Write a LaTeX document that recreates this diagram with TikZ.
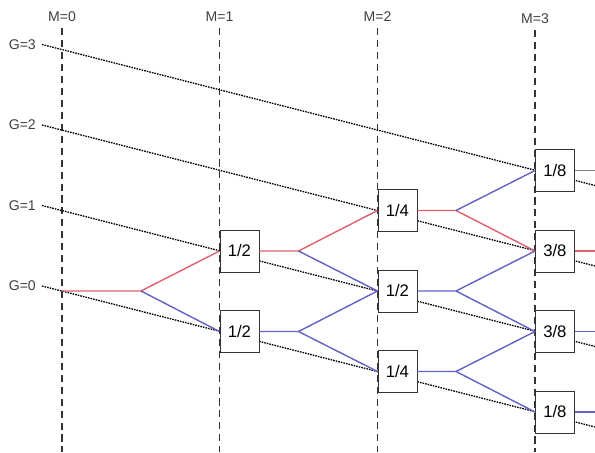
\documentclass[tikz,border=0pt]{standalone}
\usepackage{fontspec}
\setmainfont{Liberation Sans}
\definecolor{pathred}{RGB}{222,96,110}
\definecolor{pathblue}{RGB}{98,98,196}
\begin{document}
\begin{tikzpicture}[x=1cm,y=1cm,
  box/.style={draw=black!80, fill=white, anchor=west, minimum width=0.78cm, minimum height=0.84cm, inner sep=0pt, font=\fontsize{9.5}{11}\selectfont},
  lbl/.style={text=black!75, font=\fontsize{8}{9}\selectfont},
  mline/.style={black!80, line width=0.6pt, dash pattern=on 4pt off 2.8pt},
  gline/.style={black, line width=0.75pt, dash pattern=on 0.9pt off 0.6pt},
  up/.style={line width=0.8pt, pathred},
  dn/.style={line width=0.8pt, pathblue}]
\useasboundingbox (-1.24,-3.22) rectangle (10.66,5.82);

% columns M
\node[lbl] (m0) at (0,5.48) {M=0};
\node[lbl] (m1) at (3.15,5.48) {M=1};
\node[lbl] (m2) at (6.31,5.48) {M=2};
\node[lbl] (m3) at (9.46,5.44) {M=3};
\coordinate (d0) at (0,-3.22);
\coordinate (d1) at (3.15,-3.22);
\coordinate (d2) at (6.31,-3.22);
\coordinate (d3) at (9.46,-3.22);
\draw[mline] (m0.south) -- (d0);
\draw[mline] (m1.south) -- (d1);
\draw[mline] (m2.south) -- (d2);
\draw[mline] (m3.south) -- (d3);

% levels G
\node[lbl, anchor=east] (g0) at (-0.4,0.10) {G=0};
\node[lbl, anchor=east] (g1) at (-0.4,1.71) {G=1};
\node[lbl, anchor=east] (g2) at (-0.4,3.32) {G=2};
\node[lbl, anchor=east] (g3) at (-0.4,4.93) {G=3};
\coordinate (e0) at (10.66,-2.72);
\coordinate (e1) at (10.66,-1.11);
\coordinate (e2) at (10.66,0.50);
\coordinate (e3) at (10.66,2.11);
\draw[gline] (g0.east) -- (e0);
\draw[gline] (g1.east) -- (e1);
\draw[gline] (g2.east) -- (e2);
\draw[gline] (g3.east) -- (e3);

% boxes
\node[box] (n10) at (3.15,-0.81) {1/2};
\node[box] (n11) at (3.15,0.80) {1/2};
\node[box] (n20) at (6.31,-1.61) {1/4};
\node[box] (n21) at (6.31,0) {1/2};
\node[box] (n22) at (6.31,1.61) {1/4};
\node[box] (n30) at (9.46,-2.42) {1/8};
\node[box] (n31) at (9.46,-0.81) {3/8};
\node[box] (n32) at (9.46,0.80) {3/8};
\node[box] (n33) at (9.46,2.41) {1/8};

% forks
\coordinate (s) at (0,0);
\coordinate (f0) at (1.58,0);
\coordinate (f10) at (4.73,-0.81);
\coordinate (f11) at (4.73,0.80);
\coordinate (f20) at (7.88,-1.61);
\coordinate (f21) at (7.88,0);
\coordinate (f22) at (7.88,1.61);
\coordinate (x0) at (10.66,-2.42);
\coordinate (x1) at (10.66,-0.81);
\coordinate (x2) at (10.66,0.80);
\coordinate (x3) at (10.66,2.41);

\draw[up] (s) -- (f0) -- (n11.west);
\draw[dn] (f0) -- (n10.west);
\draw[up] (n11.east) -- (f11) -- (n22.west);
\draw[dn] (f11) -- (n21.west);
\draw[dn] (n10.east) -- (f10) -- (n21.west);
\draw[dn] (f10) -- (n20.west);
\draw[up] (n22.east) -- (f22) -- (n32.west);
\draw[dn] (f22) -- (n33.west);
\draw[dn] (n21.east) -- (f21) -- (n32.west);
\draw[dn] (f21) -- (n31.west);
\draw[dn] (n20.east) -- (f20) -- (n31.west);
\draw[dn] (f20) -- (n30.west);
\draw[black!50, line width=0.8pt] (n33.east) -- (x3);
\draw[up] (n32.east) -- (x2);
\draw[dn] (n31.east) -- (x1);
\draw[dn] (n30.east) -- (x0);
\end{tikzpicture}
\end{document}
